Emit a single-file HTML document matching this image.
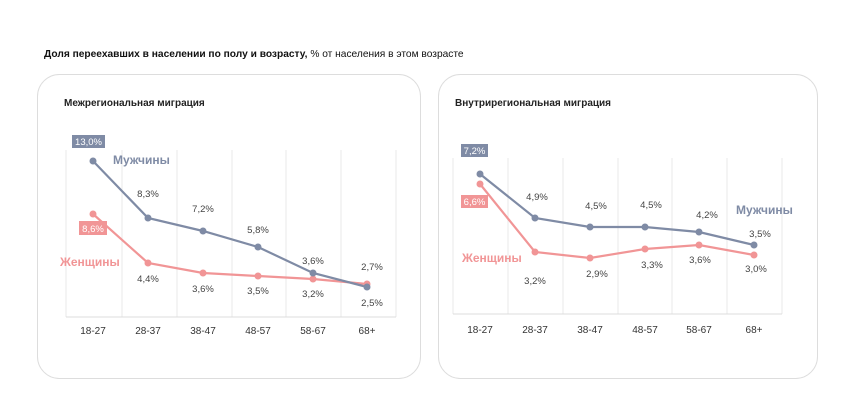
<!DOCTYPE html>
<html><head><meta charset="utf-8"><style>
html,body{margin:0;padding:0;background:#fff;}
svg{display:block;font-family:"Liberation Sans","DejaVu Sans",sans-serif;}
</style></head><body>
<svg width="841" height="402" viewBox="0 0 841 402" xmlns="http://www.w3.org/2000/svg">
<text x="44" y="57" font-size="10.2" font-weight="bold" fill="#111">Доля переехавших в населении по полу и возрасту, <tspan font-weight="normal">% от населения в этом возрасте</tspan></text>
<rect x="37.5" y="74.5" width="383" height="304" rx="22" fill="#fff" stroke="#ddd"/>
<rect x="438.5" y="74.5" width="379" height="304" rx="22" fill="#fff" stroke="#ddd"/>
<text x="64" y="106" font-size="10" font-weight="bold" fill="#222">Межрегиональная миграция</text>
<text x="455" y="106" font-size="10" font-weight="bold" fill="#222">Внутрирегиональная миграция</text>
<g stroke="#e8e8e8" stroke-width="1">
<line x1="66" y1="150" x2="66" y2="317"/><line x1="122" y1="150" x2="122" y2="317"/><line x1="177" y1="150" x2="177" y2="317"/><line x1="232" y1="150" x2="232" y2="317"/><line x1="286" y1="150" x2="286" y2="317"/><line x1="341" y1="150" x2="341" y2="317"/><line x1="396" y1="150" x2="396" y2="317"/>
<line x1="66" y1="317" x2="396" y2="317" stroke="#ddd"/>
<line x1="453" y1="158" x2="453" y2="314"/><line x1="508" y1="158" x2="508" y2="314"/><line x1="563" y1="158" x2="563" y2="314"/><line x1="618" y1="158" x2="618" y2="314"/><line x1="672" y1="158" x2="672" y2="314"/><line x1="727" y1="158" x2="727" y2="314"/><line x1="782" y1="158" x2="782" y2="314"/>
<line x1="453" y1="314" x2="782" y2="314" stroke="#ddd"/>
</g>
<g font-size="10" fill="#333" text-anchor="middle">
<text x="93" y="334">18-27</text><text x="148" y="334">28-37</text><text x="203" y="334">38-47</text><text x="258" y="334">48-57</text><text x="313" y="334">58-67</text><text x="367" y="334">68+</text>
<text x="480" y="333">18-27</text><text x="535" y="333">28-37</text><text x="590" y="333">38-47</text><text x="645" y="333">48-57</text><text x="699" y="333">58-67</text><text x="754" y="333">68+</text>
</g>
<g fill="none" stroke-width="2.2">
<polyline stroke="#f19596" points="93,214 148,263 203,273 258,276 313,279 367,284"/>
<polyline stroke="#7f8ba5" points="93,161 148,218 203,231 258,247 313,273 367,287"/>
<polyline stroke="#f19596" points="480,184 535,252 590,258 645,249 699,245 754,255"/>
<polyline stroke="#7f8ba5" points="480,174 535,218 590,227 645,227 699,232 754,245"/>
</g>
<g fill="#f19596"><circle cx="93" cy="214" r="3.5"/><circle cx="148" cy="263" r="3.5"/><circle cx="203" cy="273" r="3.5"/><circle cx="258" cy="276" r="3.5"/><circle cx="313" cy="279" r="3.5"/><circle cx="367" cy="284" r="3.5"/>
<circle cx="480" cy="184" r="3.5"/><circle cx="535" cy="252" r="3.5"/><circle cx="590" cy="258" r="3.5"/><circle cx="645" cy="249" r="3.5"/><circle cx="699" cy="245" r="3.5"/><circle cx="754" cy="255" r="3.5"/></g>
<g fill="#7f8ba5"><circle cx="93" cy="161" r="3.5"/><circle cx="148" cy="218" r="3.5"/><circle cx="203" cy="231" r="3.5"/><circle cx="258" cy="247" r="3.5"/><circle cx="313" cy="273" r="3.5"/><circle cx="367" cy="287" r="3.5"/>
<circle cx="480" cy="174" r="3.5"/><circle cx="535" cy="218" r="3.5"/><circle cx="590" cy="227" r="3.5"/><circle cx="645" cy="227" r="3.5"/><circle cx="699" cy="232" r="3.5"/><circle cx="754" cy="245" r="3.5"/></g>
<rect x="72" y="135" width="33" height="13" fill="#7f8ba5"/><text x="88.5" y="145" font-size="9.5" fill="#fff" text-anchor="middle">13,0%</text>
<rect x="79" y="221" width="28" height="14" fill="#f19596"/><text x="93" y="232" font-size="9.5" fill="#fff" text-anchor="middle">8,6%</text>
<rect x="461" y="144" width="27" height="13" fill="#7f8ba5"/><text x="474.5" y="154" font-size="9.5" fill="#fff" text-anchor="middle">7,2%</text>
<rect x="461" y="195" width="27" height="13" fill="#f19596"/><text x="474.5" y="205" font-size="9.5" fill="#fff" text-anchor="middle">6,6%</text>
<text x="113" y="164" font-size="12" font-weight="bold" fill="#7f8ba5">Мужчины</text>
<text x="60" y="266" font-size="12" font-weight="bold" fill="#f19596">Женщины</text>
<text x="736" y="214" font-size="12" font-weight="bold" fill="#7f8ba5">Мужчины</text>
<text x="462" y="262" font-size="12" font-weight="bold" fill="#f19596">Женщины</text>
<g font-size="9.5" fill="#444" text-anchor="middle">
<text x="148" y="197">8,3%</text><text x="203" y="212">7,2%</text><text x="258" y="233">5,8%</text><text x="313" y="264">3,6%</text><text x="372" y="270">2,7%</text>
<text x="148" y="282">4,4%</text><text x="203" y="292">3,6%</text><text x="258" y="294">3,5%</text><text x="313" y="297">3,2%</text><text x="372" y="306">2,5%</text>
<text x="537" y="200">4,9%</text><text x="596" y="209">4,5%</text><text x="651" y="208">4,5%</text><text x="707" y="218">4,2%</text><text x="760" y="237">3,5%</text>
<text x="535" y="284">3,2%</text><text x="597" y="277">2,9%</text><text x="652" y="268">3,3%</text><text x="700" y="263">3,6%</text><text x="756" y="272">3,0%</text>
</g>
</svg>
</body></html>
